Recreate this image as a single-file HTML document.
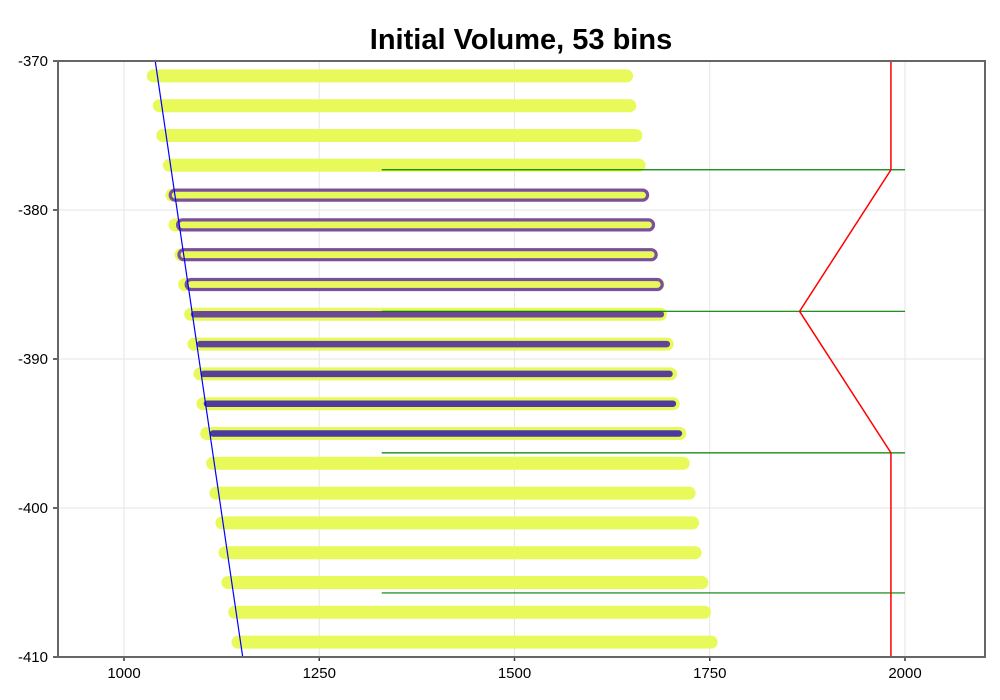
<!DOCTYPE html>
<html><head><meta charset="utf-8"><style>
body{margin:0;background:#fff}
svg{display:block;font-family:"Liberation Sans",sans-serif}
</style></head><body>
<svg id="c" width="1000" height="700">
<text x="521" y="49" text-anchor="middle" font-size="29" font-weight="bold">Initial Volume, 53 bins</text>
<g id="grid"></g><g id="marks"></g><g id="axes"></g>
</svg>
<script>
const xTicks=[1000,1250,1500,1750,2000];
const yTicks=[-370,-380,-390,-400,-410];
const rowY=[-371,-373,-375,-377,-379,-381,-383,-385,-387,-389,-391,-393,-395,-397,-399,-401,-403,-405,-407,-409];
const barStart=[1037.5,1045.2,1049.5,1058,1061.4,1065.3,1073,1077.7,1085.4,1089.6,1097.3,1101.1,1105.9,1113.5,1117.7,1125.4,1129.3,1133,1141.7,1146];
const barEnd=[1643.5,1647.7,1655.4,1659.6,1664,1671.6,1675,1683.6,1687,1695.5,1699.8,1703.2,1711.7,1716,1723.6,1728,1731.3,1740,1743.3,1751.8];
const outlineRow=[-379,-381,-383,-385];
const outlineStart=[1065.6,1075,1076.8,1086];
const outlineEnd=[1664,1671.6,1675,1682.7];
const fillRow=[-387,-389,-391,-393,-395];
const fillStart=[1089.6,1097.3,1102,1106.2,1113.9];
const fillEnd=[1687.4,1695,1698.5,1702.8,1710.5];
const fillColor=['#6a4896','#604496','#56409a','#4e3b9c','#4a3a9e'];
const blueX=[1040,1152], blueY=[-370,-410];
const redX=[1982,1982,1865,1982,1982], redY=[-370,-377.3,-386.8,-396.3,-410];
const greenY=[-377.3,-386.8,-396.3,-405.7], greenX0=1330, greenX1=2000;

const X0=58,X1=985,Y0=61,Y1=657;
const xs=v=>124+(v-1000)*(905-124)/1000;
const ys=v=>61+(-370-v)*(Y1-Y0)/40;
const NS='http://www.w3.org/2000/svg';
function mk(t,a,p){const e=document.createElementNS(NS,t);for(const k in a)e.setAttribute(k,a[k]);p.appendChild(e);return e;}
const G=document.getElementById('grid'),M=document.getElementById('marks'),A=document.getElementById('axes');
xTicks.forEach(t=>{const l=mk('line',{x1:xs(t),x2:xs(t),y1:Y0,y2:Y1,stroke:'#e6e6e6','stroke-width':1},G);


mk('line',{x1:xs(t),x2:xs(t),y1:Y1,y2:Y1+4,stroke:'#333','stroke-width':1.5},A);
const tx=mk('text',{x:xs(t),y:Y1+21,'text-anchor':'middle','font-size':15},A);tx.textContent=t;

});
yTicks.forEach(t=>{const l=mk('line',{x1:X0,x2:X1,y1:ys(t),y2:ys(t),stroke:'#e6e6e6','stroke-width':1},G);


mk('line',{x1:X0-5,x2:X0,y1:ys(t),y2:ys(t),stroke:'#666','stroke-width':2},A);
const tx=mk('text',{x:X0-10,y:ys(t)+5,'text-anchor':'end','font-size':15},A);tx.textContent=t;

});
rowY.forEach((y,i)=>{const l=mk('line',{x1:xs(barStart[i]),x2:xs(barEnd[i]),y1:ys(y),y2:ys(y),stroke:'#e8fa5a','stroke-width':13,'stroke-linecap':'round'},M);

});
outlineRow.forEach((y,i)=>{const x=xs(outlineStart[i])-5,w=xs(outlineEnd[i])-xs(outlineStart[i])+10;
const r=mk('rect',{x:x,y:ys(y)-5,width:w,height:10,rx:5,fill:'none',stroke:'#7a4f9e','stroke-width':3.2},M);

});
fillRow.forEach((y,i)=>{const l=mk('line',{x1:xs(fillStart[i]),x2:xs(fillEnd[i]),y1:ys(y),y2:ys(y),stroke:fillColor[i],'stroke-width':6.5,'stroke-linecap':'round'},M);

});
greenY.forEach(y=>{const l=mk('line',{x1:xs(greenX0),x2:xs(greenX1),y1:ys(y),y2:ys(y),stroke:'#008000','stroke-width':1.2},M);

});
const b=mk('line',{x1:xs(blueX[0]),x2:xs(blueX[1]),y1:ys(blueY[0]),y2:ys(blueY[1]),stroke:'#0000ff','stroke-width':1.2},M);


const rp=mk('polyline',{points:redX.map((v,i)=>xs(v)+','+ys(redY[i])).join(' '),fill:'none',stroke:'#ff0000','stroke-width':1.5},M);


const fr=mk('rect',{x:X0,y:Y0,width:X1-X0,height:Y1-Y0,fill:'none',stroke:'#666','stroke-width':2},A);


</script>
</body></html>
